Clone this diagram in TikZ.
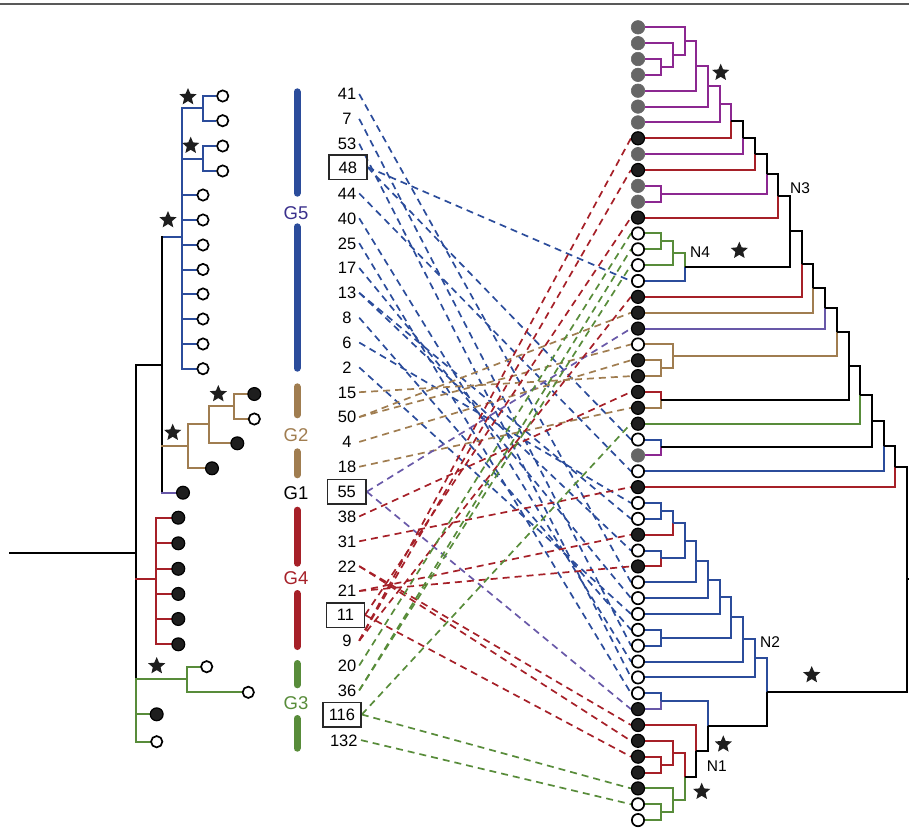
\documentclass[tikz,border=0pt]{standalone}
\usepackage{fontspec}
\setmainfont{Liberation Sans}
\usetikzlibrary{shapes.geometric,backgrounds}

\definecolor{gblue}{RGB}{43,76,155}
\definecolor{gtan}{RGB}{160,125,80}
\definecolor{gred}{RGB}{166,32,40}
\definecolor{ggreen}{RGB}{88,140,58}
\definecolor{gpurple}{RGB}{140,40,145}
\definecolor{gviolet}{RGB}{104,88,168}
\definecolor{gindigo}{RGB}{58,48,140}
\definecolor{tipgrey}{RGB}{102,102,102}
\definecolor{tipdark}{RGB}{30,30,30}
\definecolor{boxline}{RGB}{40,40,40}

% one branch of the right-hand tree: child -> parent, elbow style
\newcommand\brn[3]{\draw[branch,#1] (#2) -| (#3);}
\newcommand\labfont{\fontsize{16.5}{18}\selectfont}
\newcommand\gfont{\fontsize{18.5}{20}\selectfont}
\newcommand\nfont{\fontsize{15.5}{17}\selectfont}

\begin{document}
\begin{tikzpicture}[x=1pt,y=-1pt,
  branch/.style={line width=2pt},
  lbranch/.style={line width=2pt, line cap=rect},
  link/.style={dash pattern=on 7pt off 5pt, line width=1.7pt},
  gbar/.style={line width=7pt, line cap=round},
  tipo/.style={circle, draw=black, fill=white, line width=1.7pt, minimum size=12.3pt, inner sep=0pt},
  tipb/.style={circle, draw=black, fill=tipdark, line width=1.2pt, minimum size=13pt, inner sep=0pt},
  tipg/.style={circle, draw=tipgrey, fill=tipgrey, line width=0.6pt, minimum size=13.5pt, inner sep=0pt},
  ltipo/.style={tipo, minimum size=11.3pt},
  ltipb/.style={tipb, minimum size=12.8pt},
  starmark/.style={star, star points=5, star point ratio=2.2, fill=tipdark, inner sep=0pt, minimum size=18pt},
  lab/.style={font=\labfont, inner sep=0pt, minimum width=24pt, text height=11.8pt, text depth=0pt},
  lab3/.style={lab, minimum width=34pt},
  boxlab/.style={lab, draw=boxline, line width=1.5pt, minimum height=24.5pt},
  glab/.style={font=\gfont, inner sep=0pt, text height=13.3pt, text depth=0pt},
  nlab/.style={font=\nfont, inner sep=0pt, anchor=west, text height=11pt, text depth=0pt}]

\useasboundingbox (0,0) rectangle (909,827);

% rule along the top
\draw[line width=1.3pt, black!65] (0,4) -- (909,4);

% ---------------- left tree ----------------
% G5 clade
\draw[lbranch,gblue] (215,96) -| (203,120.7) -- (215,120.7);
\draw[lbranch,gblue] (181.7,108.35) -- (203,108.35);
\draw[lbranch,gblue] (215,146) -| (203,171) -- (215,171);
\draw[lbranch,gblue] (181.7,158.5) -- (203,158.5);
\draw[lbranch,gblue] (181.7,108.35) -- (181.7,368.7);
\foreach \y in {195,220,245,269.5,294,319,344,368.7}
  \draw[lbranch,gblue] (181.7,\y) -- (196,\y);
\draw[lbranch,gblue] (162,237) -- (181.7,237);
% backbone
\draw[lbranch] (162,237) -- (162,492.7);
\draw[lbranch] (135.7,365.3) -- (162,365.3);
\draw[lbranch] (135.7,365.3) -- (135.7,679.3);
\draw[lbranch] (10,553.3) -- (135.7,553.3);
% G2 clade
\draw[lbranch,gtan] (162,446) -- (187.7,446);
\draw[lbranch,gtan] (205,468.3) -| (187.7,424.3) -- (209,424.3);
\draw[lbranch,gtan] (230,443.3) -| (209,406) -- (234.3,406);
\draw[lbranch,gtan] (247,394) -| (234.3,419) -- (247,419);
% G1 tip
\draw[lbranch,gviolet] (162,492.7) -- (176,492.7);
% G4 clade
\draw[lbranch,gred] (135.7,579.3) -- (156,579.3);
\draw[lbranch,gred] (156,517.7) -- (156,644.3);
\foreach \y in {517.7,543.3,568.8,593.9,619,644.3}
  \draw[lbranch,gred] (156,\y) -- (171,\y);
% G3 clade
\draw[lbranch,ggreen] (135.7,679.3) -- (135.7,741.7);
\draw[lbranch,ggreen] (135.7,679.3) -- (186.7,679.3);
\draw[lbranch,ggreen] (200,666.7) -| (186.7,692.3) -- (241.5,692.3);
\draw[lbranch,ggreen] (135.7,714.3) -- (150,714.3);
\draw[lbranch,ggreen] (135.7,741.7) -- (150,741.7);

% left tips
\node[ltipo] (lb1) at (222.7,96) {};
\node[ltipo] (lb2) at (222.7,120.7) {};
\node[ltipo] (lb3) at (222.7,146) {};
\node[ltipo] (lb4) at (222.7,171) {};
\foreach \y [count=\k from 5] in {195,220,245,269.5,294,319,344,368.7}
  \node[ltipo] (lb\k) at (203,\y) {};
\node[ltipb] (lt1) at (254.3,394) {};
\node[ltipo] (lt2) at (254.3,419) {};
\node[ltipb] (lt3) at (237.3,443.3) {};
\node[ltipb] (lt4) at (212,468.3) {};
\node[ltipb] (lv1) at (183,492.7) {};
\foreach \y [count=\k] in {517.7,543.3,568.8,593.9,619,644.3}
  \node[ltipb] (lr\k) at (178.3,\y) {};
\node[ltipo] (lg1) at (206.7,666.7) {};
\node[ltipo] (lg2) at (248.3,692.3) {};
\node[ltipb] (lg3) at (156.7,714.3) {};
\node[ltipo] (lg4) at (156.7,741.7) {};

% left stars
\node[starmark] (ls1) at (188,97) {};
\node[starmark] (ls2) at (190.7,145.7) {};
\node[starmark] (ls3) at (168,220) {};
\node[starmark] (ls4) at (218.3,394) {};
\node[starmark] (ls5) at (172.7,432.7) {};
\node[starmark] (ls6) at (156.7,666) {};

% ---------------- group bars ----------------
\draw[gbar,gblue] (297,91.8) -- (297,193.2);
\draw[gbar,gblue] (297,226.8) -- (297,368.2);
\draw[gbar,gtan] (297,386.8) -- (297,414.8);
\draw[gbar,gtan] (297,451.8) -- (297,474.8);
\draw[gbar,gred] (297,510.2) -- (297,563.2);
\draw[gbar,gred] (297,593.5) -- (297,646.5);
\draw[gbar,ggreen] (297,663.5) -- (297,684.8);
\draw[gbar,ggreen] (297,718.5) -- (297,748.2);
\node[glab,text=gindigo] (g5) at (296,212.7) {G5};
\node[glab,text=gtan] (g2) at (296,435) {G2};
\node[glab] (g1) at (296,492.7) {G1};
\node[glab,text=gred] (g4) at (296,578.3) {G4};
\node[glab,text=ggreen] (g3) at (296,703.3) {G3};

% ---------------- isolate numbers ----------------
\node[lab] (n41) at (347,94.0) {41};
\node[lab] (n7) at (347,118.85) {7};
\node[lab] (n53) at (347,143.7) {53};
\node[boxlab,minimum width=37.7pt] (n48) at (347.9,167.2) {48};
\node[lab] (n44) at (347,193.4) {44};
\node[lab] (n40) at (347,218.25) {40};
\node[lab] (n25) at (347,243.1) {25};
\node[lab] (n17) at (347,267.95) {17};
\node[lab] (n13) at (347,292.8) {13};
\node[lab] (n8) at (347,317.65) {8};
\node[lab] (n6) at (347,342.5) {6};
\node[lab] (n2) at (347,367.35) {2};
\node[lab] (n15) at (347,392.2) {15};
\node[lab] (n50) at (347,417.05) {50};
\node[lab] (n4) at (347,441.9) {4};
\node[lab] (n18) at (347,466.75) {18};
\node[boxlab,minimum width=38.7pt] (n55) at (346.7,491.7) {55};
\node[lab] (n38) at (347,516.45) {38};
\node[lab] (n31) at (347,541.3) {31};
\node[lab] (n22) at (347,566.15) {22};
\node[lab] (n21) at (347,591.0) {21};
\node[boxlab,minimum width=37.6pt] (n11) at (345.5,615.0) {11};
\node[lab] (n9) at (347,640.7) {9};
\node[lab] (n20) at (347,665.55) {20};
\node[lab] (n36) at (347,690.4) {36};
\node[boxlab,minimum width=38.3pt] (n116) at (341.9,714.5) {116};
\node[lab3] (n132) at (343.8,740.1) {132};

% ---------------- right tree ----------------
\foreach \i in {0,...,50}
  \coordinate (t\i) at (645,{27.3+15.856*\i});
% internal nodes, upper part
\coordinate (vA) at (661.0,66.94);
\coordinate (vB) at (672.7,55.05);
\coordinate (vC) at (684.5,41.18);
\coordinate (vD) at (696.2,65.95);
\coordinate (vE) at (707.9,86.27);
\coordinate (vF) at (719.6,104.36);
\coordinate (vG) at (731.3,121.33);
\coordinate (vH) at (743.1,137.74);
\coordinate (vI) at (754.8,153.87);
\coordinate (vJa) at (661.0,193.79);
\coordinate (vJ) at (766.5,173.83);
\coordinate (vK) at (778.2,195.70);
\coordinate (vMa) at (661.0,241.36);
\coordinate (vMb) at (672.7,253.25);
\coordinate (vN4) at (684.5,267.12);
\coordinate (vL) at (789.9,231.41);
\coordinate (vM) at (801.7,264.13);
\coordinate (vN) at (813.4,288.42);
\coordinate (vO) at (825.1,308.49);
\coordinate (vTa) at (661.0,368.20);
\coordinate (vTb) at (672.7,356.31);
\coordinate (vP) at (836.8,332.40);
\coordinate (vQa) at (661.0,399.92);
\coordinate (vQ) at (848.5,366.16);
\coordinate (vR) at (860.3,394.93);
\coordinate (vSa) at (661.0,447.49);
\coordinate (vS) at (872.0,421.21);
\coordinate (vT) at (883.7,446.24);
\coordinate (vU) at (895.4,466.68);
\coordinate (vRoot) at (907.1,579.44);
\coordinate (vStub) at (912,579.44);
% internal nodes, lower part
\coordinate (wa1) at (661.0,510.91);
\coordinate (wa2) at (672.7,522.80);
\coordinate (wa3) at (661.0,558.48);
\coordinate (wa4) at (684.5,540.64);
\coordinate (wa5) at (696.2,561.45);
\coordinate (wa6) at (707.9,579.78);
\coordinate (wa7) at (719.6,596.88);
\coordinate (wb1) at (661.0,637.76);
\coordinate (wa8) at (731.3,617.32);
\coordinate (wa9) at (743.1,639.43);
\coordinate (wa10) at (754.8,658.41);
\coordinate (wc1) at (661.0,701.18);
\coordinate (wd1) at (661.0,764.60);
\coordinate (wd2) at (672.7,752.71);
\coordinate (we1) at (661.0,812.17);
\coordinate (we2) at (672.7,800.28);
\coordinate (wd3) at (684.5,776.50);
\coordinate (wd4) at (696.2,750.73);
\coordinate (wd5) at (707.9,725.96);
\coordinate (wd6) at (766.5,692.19);

\brn{gpurple}{t2}{vA} \brn{gpurple}{t3}{vA}
\brn{gpurple}{t1}{vB} \brn{gpurple}{vA}{vB}
\brn{gpurple}{t0}{vC} \brn{gpurple}{vB}{vC}
\brn{gpurple}{vC}{vD} \brn{gpurple}{t4}{vD}
\brn{gpurple}{vD}{vE} \brn{gpurple}{t5}{vE}
\brn{gpurple}{vE}{vF} \brn{gpurple}{t6}{vF}
\brn{gpurple}{vF}{vG} \brn{gred}{t7}{vG}
\brn{black}{vG}{vH} \brn{gpurple}{t8}{vH}
\brn{black}{vH}{vI} \brn{gred}{t9}{vI}
\brn{gpurple}{t10}{vJa} \brn{gpurple}{t11}{vJa}
\brn{black}{vI}{vJ} \brn{gpurple}{vJa}{vJ}
\brn{black}{vJ}{vK} \brn{gred}{t12}{vK}
\brn{ggreen}{t13}{vMa} \brn{ggreen}{t14}{vMa}
\brn{ggreen}{vMa}{vMb} \brn{ggreen}{t15}{vMb}
\brn{ggreen}{vMb}{vN4} \brn{gblue}{t16}{vN4}
\brn{black}{vK}{vL} \brn{black}{vN4}{vL}
\brn{black}{vL}{vM} \brn{gred}{t17}{vM}
\brn{black}{vM}{vN} \brn{gtan}{t18}{vN}
\brn{black}{vN}{vO} \brn{gviolet}{t19}{vO}
\brn{gtan}{t21}{vTa} \brn{gtan}{t22}{vTa}
\brn{gtan}{t20}{vTb} \brn{gtan}{vTa}{vTb}
\brn{black}{vO}{vP} \brn{gtan}{vTb}{vP}
\brn{gred}{t23}{vQa} \brn{gtan}{t24}{vQa}
\brn{black}{vP}{vQ} \brn{black}{vQa}{vQ}
\brn{black}{vQ}{vR} \brn{ggreen}{t25}{vR}
\brn{gblue}{t26}{vSa} \brn{gpurple}{t27}{vSa}
\brn{black}{vR}{vS} \brn{black}{vSa}{vS}
\brn{black}{vS}{vT} \brn{gblue}{t28}{vT}
\brn{black}{vT}{vU} \brn{gred}{t29}{vU}
\brn{black}{vU}{vRoot}

\brn{gblue}{t30}{wa1} \brn{gblue}{t31}{wa1}
\brn{gblue}{wa1}{wa2} \brn{gred}{t32}{wa2}
\brn{gblue}{t33}{wa3} \brn{gred}{t34}{wa3}
\brn{gblue}{wa2}{wa4} \brn{gblue}{wa3}{wa4}
\brn{gblue}{wa4}{wa5} \brn{gblue}{t35}{wa5}
\brn{gblue}{wa5}{wa6} \brn{gblue}{t36}{wa6}
\brn{gblue}{wa6}{wa7} \brn{gblue}{t37}{wa7}
\brn{gblue}{t38}{wb1} \brn{gblue}{t39}{wb1}
\brn{gblue}{wa7}{wa8} \brn{gblue}{wb1}{wa8}
\brn{gblue}{wa8}{wa9} \brn{gblue}{t40}{wa9}
\brn{gblue}{wa9}{wa10} \brn{gblue}{t41}{wa10}
\brn{gblue}{t42}{wc1} \brn{gviolet}{t43}{wc1}
\brn{gred}{t46}{wd1} \brn{gred}{t47}{wd1}
\brn{gred}{t45}{wd2} \brn{gred}{wd1}{wd2}
\brn{ggreen}{t49}{we1} \brn{ggreen}{t50}{we1}
\brn{ggreen}{t48}{we2} \brn{ggreen}{we1}{we2}
\brn{gred}{wd2}{wd3} \brn{ggreen}{we2}{wd3}
\brn{gred}{t44}{wd4} \brn{black}{wd3}{wd4}
\brn{gblue}{wc1}{wd5} \brn{black}{wd4}{wd5}
\brn{gblue}{wa10}{wd6} \brn{black}{wd5}{wd6}
\brn{black}{wd6}{vRoot}
\draw[branch] (vRoot) -- (vStub);

% right tips
\foreach \i in {0,...,6,8,10,11,27}
  \node[tipg] (r\i) at (638,{27.3+15.856*\i}) {};
\foreach \i in {7,9,12,17,18,19,21,22,23,24,25,29,32,34,43,44,45,46,47,48}
  \node[tipb] (r\i) at (638,{27.3+15.856*\i}) {};
\foreach \i in {13,14,15,16,20,26,28,30,31,33,35,36,37,38,39,40,41,42,49,50}
  \node[tipo] (r\i) at (638,{27.3+15.856*\i}) {};

% node labels and stars of the right tree
\node[nlab] (lN3) at (790,188.3) {N3};
\node[nlab] (lN4) at (690,251.7) {N4};
\node[nlab] (lN2) at (760,641.7) {N2};
\node[nlab] (lN1) at (706.7,766) {N1};
\node[starmark] (rs1) at (720.7,72.7) {};
\node[starmark] (rs2) at (739.3,250.7) {};
\node[starmark] (rs3) at (811.7,675) {};
\node[starmark] (rs4) at (723.3,744.3) {};
\node[starmark] (rs5) at (701.7,791.7) {};

% ---------------- links from isolates to tree tips ----------------
\begin{pgfonlayer}{background}
\foreach \a/\b in {41/35,7/39,53/41,48/16,48/26,44/28,40/40,25/42,17/36,13/33,13/31,8/38,6/30,2/37}
  \draw[link,gblue] (n\a.east) -- (r\b.west);
\foreach \a/\b in {15/22,50/20,50/18,4/21,18/24}
  \draw[link,gtan] (n\a.east) -- (r\b.west);
\foreach \a/\b in {55/19,55/43}
  \draw[link,gviolet] (n\a.east) -- (r\b.west);
\foreach \a/\b in {38/23,31/29,21/32,21/34,22/44,22/45,11/46,9/7,9/9,11/12,9/17}
  \draw[link,gred] (n\a.east) -- (r\b.west);
\foreach \a/\b in {20/13,36/14,36/15,116/25,116/48,132/49}
  \draw[link,ggreen] (n\a.east) -- (r\b.west);
\end{pgfonlayer}

\end{tikzpicture}
\end{document}
